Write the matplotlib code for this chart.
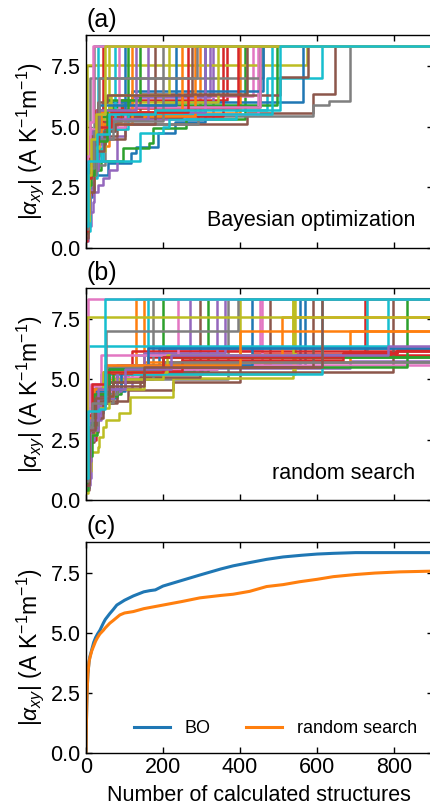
import matplotlib
matplotlib.use("Agg")
import matplotlib.pyplot as plt

plt.rcParams['font.family'] = ['Liberation Sans', 'DejaVu Sans']
plt.rcParams['mathtext.fontset'] = 'custom'
plt.rcParams['mathtext.rm'] = 'Liberation Sans'
plt.rcParams['mathtext.it'] = 'Liberation Sans:italic'
plt.rcParams['font.size'] = 15

# ---------------- data ----------------
x_max = 900
y_top = 8.77
y_ticks = [0.0, 2.5, 5.0, 7.5]
x_ticks = [0, 200, 400, 600, 800]
panel_labels = ["(a)", "(b)", "(c)"]
panel_texts = ["Bayesian optimization", "random search"]
ylabel = r'$|\alpha_{xy}|$ (A K$^{-1}$m$^{-1}$)'
xlabel = "Number of calculated structures"
legend_labels = ["BO", "random search"]

# Bayesian optimization runs: step points (x, running max)
bo_runs = [
    [(0,0.4),(3,1.2),(6,2.1),(15,3.0),(56,3.5),(117,3.9),(130,4.14),(188,4.75),(230,5.2),(309,8.33)],
    [(0,1.2),(3,2.6),(10,3.3),(30,4.2),(60,5.4),(150,5.55),(296,8.33)],
    [(0,0.5),(3,1.4),(6,2.4),(20,3.2),(40,3.6),(95,4.1),(164,4.34),(175,4.96),(260,5.3),(413,8.33)],
    [(0,1.0),(2,2.0),(8,3.5),(25,4.8),(50,5.6),(90,6.1),(366,8.33)],
    [(0,0.3),(5,0.9),(12,1.5),(17,1.9),(21,2.3),(30,2.6),(43,2.9),(60,3.2),(80,4.6),(100,5.3),(330,8.33)],
    [(0,1.1),(6,2.8),(18,3.9),(40,4.5),(100,5.09),(417,5.55),(590,6.33),(647,8.33)],
    [(0,0.4),(2,1.3),(5,2.5),(12,3.6),(35,5.0),(70,5.9),(120,6.25),(434,8.33)],
    [(0,0.6),(5,2.3),(20,3.4),(50,4.9),(100,5.1),(290,5.43),(590,5.9),(632,6.05),(686,8.33)],
    [(0,1.3),(3,7.55),(573,8.33)],
    [(0,0.9),(8,2.9),(28,3.6),(140,4.75),(200,5.0),(215,5.3),(390,5.7),(470,7.0),(613,8.33)],
    [(0,1.0),(5,3.1),(25,4.7),(60,5.5),(200,6.0),(564,8.33)],
    [(0,0.7),(4,2.7),(14,4.0),(40,5.3),(85,5.55),(400,8.33)],
    [(0,1.2),(10,3.8),(35,5.2),(70,5.9),(496,8.33)],
    [(0,0.3),(3,1.1),(8,2.2),(14,3.0),(24,4.4),(45,5.45),(356,8.33)],
    [(0,1.1),(5,3.3),(18,4.8),(50,5.6),(120,6.2),(322,8.33)],
    [(0,0.9),(6,3.2),(30,4.6),(80,5.4),(250,6.3),(504,7.05),(577,8.33)],
    [(0,1.4),(3,3.0),(12,4.4),(40,5.5),(447,8.33)],
    [(0,0.8),(4,2.9),(10,7.0),(460,8.33)],
    [(0,0.5),(4,1.6),(9,2.6),(20,4.0),(50,5.2),(90,6.0),(343,8.33)],
    [(0,0.7),(10,3.6),(40,4.9),(110,5.5),(483,8.33)],
    [(0,1.2),(4,3.4),(16,4.6),(45,6.0),(120,6.45),(460,8.33)],
    [(0,0.9),(5,2.9),(18,4.3),(45,5.3),(150,5.45),(283,8.33)],
    [(0,1.3),(6,3.5),(20,4.6),(60,5.8),(452,8.33)],
    [(0,0.8),(4,3.0),(14,4.5),(38,5.25),(90,5.75),(395,8.33)],
    [(0,0.4),(4,1.4),(10,2.4),(18,3.2),(30,4.5),(60,5.6),(309,8.33)],
    [(0,0.7),(5,3.1),(20,4.3),(50,5.5),(140,6.35),(418,8.33)],
    [(0,1.1),(4,2.8),(15,4.2),(40,5.0),(100,5.8),(452,8.33)],
    [(0,0.9),(5,3.2),(18,4.4),(22,8.33)],
    [(0,1.0),(6,3.0),(16,4.5),(32,5.5),(60,8.33)],
    [(0,1.2),(5,3.6),(45,4.8),(75,8.33)],
    [(0,0.8),(6,3.3),(20,4.7),(35,5.6),(100,8.33)],
    [(0,1.1),(5,3.0),(15,4.2),(30,5.1),(120,8.33)],
    [(0,0.6),(4,2.6),(12,4.0),(28,5.4),(50,6.1),(140,8.33)],
    [(0,1.0),(3,3.2),(10,4.6),(25,5.7),(45,8.33)],
    [(0,0.9),(6,3.1),(14,4.3),(40,5.3),(160,8.33)],
    [(0,0.4),(4,1.5),(9,2.3),(20,4.0),(48,4.8),(75,5.1),(180,8.33)],
    [(0,1.2),(4,3.5),(15,4.9),(30,5.5),(85,8.33)],
    [(0,0.8),(5,3.0),(25,4.5),(70,5.25),(200,8.33)],
    [(0,1.1),(7,3.2),(16,4.1),(35,5.3),(65,6.3),(215,8.33)],
    [(0,0.9),(5,3.4),(12,4.7),(30,8.33)],
    [(0,1.0),(4,3.1),(14,4.4),(35,5.9),(235,8.33)],
    [(0,0.8),(6,3.3),(18,4.7),(40,5.6),(250,8.33)],
    [(0,1.1),(5,3.0),(20,4.4),(55,5.7),(110,8.33)],
    [(0,0.7),(3,2.9),(12,4.3),(30,5.0),(65,5.6),(265,8.33)],
    [(0,1.2),(5,3.4),(15,4.8),(28,5.7),(130,8.33)],
    [(0,0.9),(4,3.2),(14,4.6),(30,6.0),(55,6.3),(275,8.33)],
    [(0,1.0),(3,3.8),(10,5.2),(18,8.33)],
    [(0,0.8),(5,3.3),(20,4.8),(35,7.0),(288,8.33)],
    [(0,1.1),(4,3.0),(12,4.5),(25,5.5),(50,8.33)],
    [(0,0.9),(4,3.6),(28,4.7),(60,5.5),(180,5.7),(504,8.33)],
]

# Random search runs: step points (x, running max)
rs_runs = [
    [(0,0.5),(8,2.8),(20,3.6),(45,4.5),(100,5.2),(300,5.6),(556,8.33)],
    [(0,1.0),(5,3.0),(15,4.0),(60,5.0),(150,8.33)],
    [(0,0.4),(4,1.3),(10,2.4),(18,3.2),(30,4.4),(90,5.3),(317,8.33)],
    [(0,0.6),(6,2.5),(25,3.9),(50,4.9),(110,5.3),(250,6.0)],
    [(0,0.9),(12,3.3),(40,4.6),(120,5.3),(240,5.46),(686,5.75)],
    [(0,0.4),(7,2.4),(20,3.4),(45,4.1),(110,4.55),(226,4.9),(400,5.6),(478,8.33)],
    [(0,1.1),(4,3.4),(16,4.3),(60,5.1),(200,6.2),(452,8.33)],
    [(0,0.7),(9,3.0),(30,4.2),(70,5.0),(369,8.33)],
    [(0,0.3),(6,1.2),(14,2.0),(30,2.2),(35,2.6),(45,3.0),(52,3.3),(86,3.6),(114,4.28),(226,5.05),(538,8.33)],
    [(0,0.9),(5,3.8),(25,4.5),(40,5.2),(162,8.33)],
    [(0,0.8),(6,3.1),(22,4.2),(80,5.5),(569,8.33)],
    [(0,0.6),(8,2.9),(25,4.0),(70,5.2),(240,5.7),(686,7.0)],
    [(0,1.0),(5,3.5),(18,4.6),(55,5.4),(200,8.33)],
    [(0,0.7),(7,3.0),(24,4.3),(70,5.3),(160,5.9),(430,6.05),(725,8.33)],
    [(0,0.5),(5,1.6),(12,2.5),(22,3.4),(35,4.5),(90,5.5),(270,8.33)],
    [(0,0.6),(9,2.8),(30,4.0),(80,4.6),(140,5.1),(296,8.33)],
    [(0,1.2),(3,3.6),(14,4.8),(50,5.6),(457,8.33)],
    [(0,0.7),(6,3.0),(20,4.0),(70,5.0),(175,8.33)],
    [(0,0.8),(8,2.7),(25,3.8),(60,4.6),(150,5.2),(543,8.33)],
    [(0,1.0),(5,3.7),(20,4.6),(60,5.4),(130,6.0),(730,8.33)],
    [(0,0.9),(7,3.3),(26,4.4),(70,5.3),(190,6.3)],
    [(0,0.8),(5,3.2),(18,4.5),(55,5.4),(130,8.33)],
    [(0,0.4),(6,1.8),(16,2.7),(28,4.3),(80,5.3),(280,5.93)],
    [(0,1.1),(4,3.5),(15,4.6),(45,5.3),(120,6.15)],
    [(0,0.6),(10,2.9),(30,4.2),(70,5.4),(340,8.33)],
    [(0,0.8),(8,3.0),(22,4.1),(60,4.9),(150,5.3),(797,8.33)],
    [(0,1.0),(6,3.4),(20,4.5),(70,5.4),(340,5.6)],
    [(0,0.7),(8,3.1),(30,4.4),(80,5.2),(200,5.7)],
    [(0,0.9),(6,3.3),(20,4.6),(70,5.0),(200,5.6),(400,8.33)],
    [(0,0.8),(4,3.6),(22,4.4),(60,5.2),(613,8.33)],
    [(0,1.0),(7,3.2),(24,4.6),(90,5.6),(431,8.33)],
    [(0,0.7),(6,3.0),(20,4.3),(70,5.3),(150,5.7),(509,7.55)],
    [(0,0.9),(8,3.4),(25,4.7),(70,5.5),(834,8.33)],
    [(0,0.6),(5,3.0),(18,4.4),(50,5.25),(120,5.35),(250,5.8),(668,6.08),(807,6.2)],
    [(0,1.0),(6,3.4),(22,4.6),(80,5.6),(150,6.1),(361,8.33)],
    [(0,0.7),(8,3.1),(26,4.3),(70,4.9),(150,5.5),(590,8.33)],
    [(0,1.1),(4,3.6),(14,4.7),(40,6.0),(240,8.33)],
    [(0,0.8),(6,3.0),(22,4.2),(55,5.5),(200,5.72)],
    [(0,0.9),(5,3.3),(18,4.5),(45,5.3),(210,6.0),(538,8.33)],
    [(0,1.0),(5,6.37),(785,8.33)],
    [(0,0.8),(6,3.2),(20,4.5),(60,5.4),(160,6.3)],
    [(0,0.9),(5,3.4),(20,4.6),(52,5.6),(400,7.0)],
    [(0,0.7),(6,3.1),(22,4.4),(60,5.4),(200,5.93)],
    [(0,1.0),(4,3.5),(16,4.8),(50,5.3),(200,5.9),(668,6.08),(807,6.15)],
    [(0,0.9),(8,3.3),(30,4.6),(100,5.4),(220,6.0),(785,6.35)],
    [(0,0.6),(7,2.9),(24,4.2),(60,4.7),(150,5.5),(613,8.33)],
    [(0,1.2),(2,3.0),(5,8.33)],
    [(0,0.8),(4,3.0),(15,4.0),(52,7.0),(395,8.33)],
    [(0,1.0),(2,7.55)],
    [(0,0.9),(5,3.7),(35,3.75),(50,8.33)],
]

# Averages over runs (panel c)
bo_mean_x = [0, 1, 2, 3, 5, 8, 10, 15, 20, 25, 30, 36, 45, 50, 62, 70, 80, 100, 123,
             150, 166, 180, 200, 250, 296, 350, 382, 420, 469, 512, 560, 600, 642, 700, 900]
bo_mean_y = [0.0, 1.2, 2.0, 2.6, 3.3, 3.8, 4.0, 4.3, 4.6, 4.8, 4.95, 5.1, 5.4, 5.55, 5.8,
             5.95, 6.15, 6.35, 6.53, 6.7, 6.75, 6.78, 6.94, 7.18, 7.4, 7.65, 7.78, 7.9,
             8.05, 8.15, 8.22, 8.27, 8.3, 8.33, 8.33]
rs_mean_x = [0, 1, 2, 3, 5, 8, 10, 15, 20, 25, 30, 36, 45, 50, 62, 70, 88, 100, 123,
             150, 200, 250, 296, 350, 382, 425, 469, 512, 555, 600, 642, 700, 750, 815, 900]
rs_mean_y = [0.0, 1.2, 2.0, 2.6, 3.3, 3.8, 3.95, 4.25, 4.45, 4.65, 4.8, 4.95, 5.1, 5.2,
             5.4, 5.5, 5.74, 5.82, 5.88, 6.0, 6.15, 6.3, 6.45, 6.55, 6.6, 6.72, 6.92, 7.0,
             7.12, 7.22, 7.33, 7.42, 7.48, 7.53, 7.56]

# ---------------- plotting ----------------
fig = plt.figure(figsize=(4.3, 8.09), dpi=100)
left, width = 0.2, 0.806
ax_a = fig.add_axes([left, 0.6934, width, 0.2633])
ax_b = fig.add_axes([left, 0.3820, width, 0.2620])
ax_c = fig.add_axes([left, 0.0692, width, 0.2608])

colors = plt.rcParams['axes.prop_cycle'].by_key()['color']

def draw_runs(ax, runs):
    for i, run in enumerate(runs):
        xs = [p[0] for p in run] + [x_max]
        ys = [p[1] for p in run] + [run[-1][1]]
        ax.plot(xs, ys, drawstyle='steps-post', lw=1.8, color=colors[i % 10])

draw_runs(ax_a, bo_runs)
draw_runs(ax_b, rs_runs)

l1, = ax_c.plot(bo_mean_x, bo_mean_y, color=colors[0], lw=2.2)
l2, = ax_c.plot(rs_mean_x, rs_mean_y, color=colors[1], lw=2.2)
ax_c.legend([l1, l2], legend_labels, loc='center right', ncol=2, frameon=False,
            bbox_to_anchor=(0.955, 0.114), borderpad=0, borderaxespad=0,
            handlelength=2.0, handletextpad=0.8, columnspacing=2.0, fontsize=13)

for ax, lab in zip([ax_a, ax_b, ax_c], panel_labels):
    ax.set_xlim(0, x_max)
    ax.set_ylim(0, y_top)
    ax.set_xticks(x_ticks)
    ax.set_yticks(y_ticks)
    ax.set_yticklabels([f"{v:.1f}" for v in y_ticks])
    ax.tick_params(direction='in', top=True, right=True, length=4, width=1,
                   labelsize=15.5, pad=4)
    ax.set_ylabel(ylabel, fontsize=16.5, labelpad=3)
    ax.text(0.0, 1.015, lab, transform=ax.transAxes, ha='left', va='bottom', fontsize=18)
    for s in ax.spines.values():
        s.set_linewidth(1.0)

ax_a.tick_params(labelbottom=False)
ax_b.tick_params(labelbottom=False)
ax_c.set_xticklabels([str(v) for v in x_ticks])
ax_c.tick_params(axis='x', pad=3)
ax_c.set_xlabel(xlabel, fontsize=15.5, labelpad=5)

ax_a.text(0.95, 0.13, panel_texts[0], transform=ax_a.transAxes, ha='right', va='center', fontsize=15.5)
ax_b.text(0.95, 0.127, panel_texts[1], transform=ax_b.transAxes, ha='right', va='center', fontsize=15.5)

fig.savefig("out.png", dpi=100)
